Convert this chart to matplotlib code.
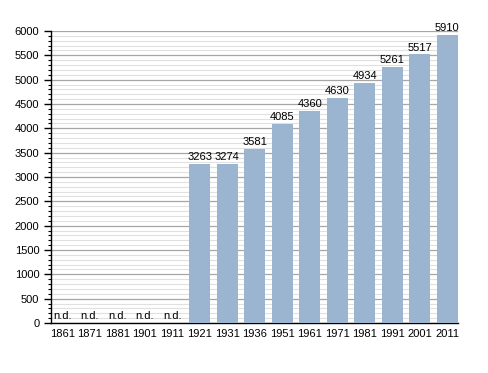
import matplotlib

matplotlib.use("Agg")

import matplotlib.pyplot as plt
import numpy as np
from matplotlib.ticker import MultipleLocator

years = ["1861", "1871", "1881", "1901", "1911", "1921", "1931", "1936",
         "1951", "1961", "1971", "1981", "1991", "2001", "2011"]
# None = no data ("n.d.")
population = [None, None, None, None, None, 3263, 3274, 3581,
              4085, 4360, 4630, 4934, 5261, 5517, 5910]

plt.rcParams["font.family"] = ["Liberation Sans", "DejaVu Sans"]
plt.rcParams["font.size"] = 8

fig = plt.figure(figsize=(4.88, 3.73), dpi=100)
ax = fig.add_axes([0.1035, 0.134, 0.835, 0.783])

x = np.arange(len(years))
heights = [0 if v is None else v for v in population]
bar_width = 0.77
ax.bar(x, heights, width=bar_width, color="#9bb4cf", zorder=3)

for xi, v in zip(x, population):
    if v is None:
        ax.text(xi, 40, "n.d.", ha="center", va="bottom", fontsize=8, zorder=4)
    else:
        ax.text(xi, v + 40, str(v), ha="center", va="bottom", fontsize=8, zorder=4)

ax.set_xlim(-bar_width / 2 - 0.04, len(years) - 1 + bar_width / 2)
ax.set_ylim(0, 6000)
ax.set_xticks(x)
ax.set_xticklabels(years)
ax.yaxis.set_major_locator(MultipleLocator(500))
ax.yaxis.set_minor_locator(MultipleLocator(100))

ax.grid(axis="y", which="major", color="#a6a6a6", linewidth=0.9, zorder=0)
ax.grid(axis="y", which="minor", color="#e0e0e0", linewidth=0.8, zorder=0)
ax.set_axisbelow(True)

ax.spines["top"].set_visible(False)
ax.spines["right"].set_visible(False)
ax.spines["left"].set_linewidth(1.0)
ax.spines["bottom"].set_linewidth(1.0)
ax.tick_params(axis="x", length=0, pad=4)
ax.tick_params(axis="y", which="major", length=5, width=1, pad=3)
ax.tick_params(axis="y", which="minor", length=2.5, width=0.8)

fig.savefig("out.png", dpi=100)
plt.close(fig)
